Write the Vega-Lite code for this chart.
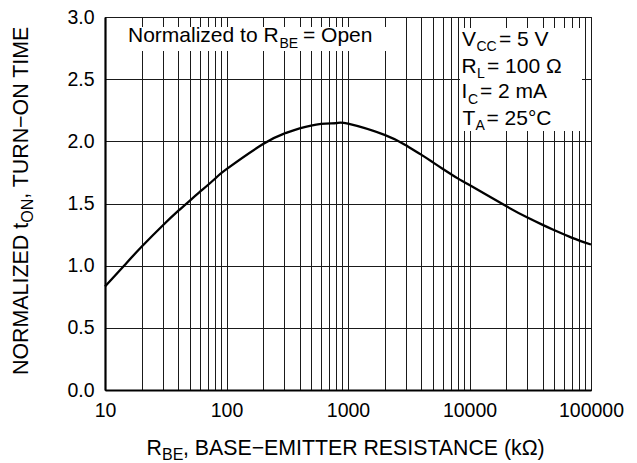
{
  "$schema": "https://vega.github.io/schema/vega-lite/v6.json",
  "width": 486,
  "height": 373,
  "autosize": {"type": "none"},
  "padding": {"left": 105, "top": 17, "right": 46, "bottom": 73},
  "background": "#ffffff",
  "config": {
    "font": "Liberation Sans",
    "view": {"stroke": "#000000", "strokeWidth": 1},
    "axis": {
      "labelFont": "Liberation Sans",
      "labelFontSize": 19.5,
      "labelColor": "#000000",
      "gridColor": "#1a1a1a",
      "gridOpacity": 1,
      "gridWidth": 1,
      "ticks": false,
      "tickSize": 0,
      "domainColor": "#000000",
      "domainWidth": 2.2,
      "title": null
    },
    "text": {"font": "Liberation Sans", "color": "#000000"}
  },
  "datasets": {
    "curve": [
      {"x": 10, "y": 0.832},
      {"x": 14.6, "y": 1.008},
      {"x": 20, "y": 1.152},
      {"x": 30, "y": 1.325},
      {"x": 40, "y": 1.44},
      {"x": 50, "y": 1.524},
      {"x": 60, "y": 1.591},
      {"x": 80, "y": 1.697},
      {"x": 100, "y": 1.776},
      {"x": 200, "y": 1.978},
      {"x": 300, "y": 2.063},
      {"x": 400, "y": 2.104},
      {"x": 600, "y": 2.14},
      {"x": 800, "y": 2.146},
      {"x": 1000, "y": 2.142},
      {"x": 2000, "y": 2.052},
      {"x": 3000, "y": 1.968},
      {"x": 4000, "y": 1.893},
      {"x": 5000, "y": 1.831},
      {"x": 6000, "y": 1.78},
      {"x": 8000, "y": 1.702},
      {"x": 10000, "y": 1.648},
      {"x": 20000, "y": 1.479},
      {"x": 30000, "y": 1.387},
      {"x": 40000, "y": 1.328},
      {"x": 50000, "y": 1.285},
      {"x": 70000, "y": 1.224},
      {"x": 100000, "y": 1.17}
    ],
    "boxes": [
      {"x": 14.33, "x2": 2135, "y": 2.9196, "y2": 2.7266},
      {"x": 8352, "x2": 84316, "y": 2.9115, "y2": 2.0831}
    ],
    "labels": [
      {"t": "Normalized to R", "x": 15.47, "y": 2.7966, "k": "a"},
      {"t": "= Open", "x": 426.2, "y": 2.7966, "k": "a"},
      {"t": "V", "x": 8677, "y": 2.7668, "k": "a"},
      {"t": "= 5 V", "x": 17490, "y": 2.7668, "k": "a"},
      {"t": "R", "x": 8595, "y": 2.552, "k": "a"},
      {"t": "= 100 Ω", "x": 13930, "y": 2.552, "k": "a"},
      {"t": "I", "x": 8595, "y": 2.3461, "k": "a"},
      {"t": "= 2 mA", "x": 12200, "y": 2.3461, "k": "a"},
      {"t": "T", "x": 8757, "y": 2.1314, "k": "a"},
      {"t": "= 25°C", "x": 13800, "y": 2.1314, "k": "a"},
      {"t": "BE", "x": 273.1, "y": 2.7966, "k": "as"},
      {"t": "CC", "x": 11418, "y": 2.7668, "k": "as"},
      {"t": "L", "x": 11526, "y": 2.552, "k": "as"},
      {"t": "C", "x": 9720, "y": 2.3461, "k": "as"},
      {"t": "A", "x": 11205, "y": 2.1314, "k": "as"},
      {"t": "R", "x": 22.0, "y": -0.5228, "k": "x"},
      {"t": "BE", "x": 29.45, "y": -0.5228, "k": "xs"},
      {"t": ", BASE−EMITTER RESISTANCE (kΩ)", "x": 43.85, "y": -0.5228, "k": "x"},
      {"t": "NORMALIZED t", "x": 2.337, "y": 0.1206, "k": "y"},
      {"t": "ON", "x": 2.337, "y": 1.3448, "k": "ys"},
      {"t": ", TURN−ON TIME", "x": 2.337, "y": 1.5378, "k": "y"}
    ]
  },
  "encoding": {
    "x": {
      "field": "x",
      "type": "quantitative",
      "scale": {"type": "log", "domain": [10, 100000], "nice": false},
      "axis": {
        "values": [10, 20, 30, 40, 50, 60, 70, 80, 90, 100, 200, 300, 400, 500, 600, 700, 800, 900, 1000, 2000, 3000, 4000, 5000, 6000, 7000, 8000, 9000, 10000, 20000, 30000, 40000, 50000, 60000, 70000, 80000, 90000, 100000],
        "labelExpr": "(datum.value == 10 || datum.value == 100 || datum.value == 1000 || datum.value == 10000 || datum.value == 100000) ? format(datum.value, 'd') : ''",
        "labelPadding": 11.5,
        "labelFlush": false,
        "labelOverlap": false,
        "grid": true
      }
    },
    "y": {
      "field": "y",
      "type": "quantitative",
      "scale": {"domain": [0, 3], "nice": false},
      "axis": {
        "values": [0, 0.5, 1, 1.5, 2, 2.5, 3],
        "format": ".1f",
        "labelPadding": 11,
        "grid": true
      }
    }
  },
  "layer": [
    {
      "data": {"name": "boxes"},
      "mark": {"type": "rect", "fill": "#ffffff", "stroke": null},
      "encoding": {
        "x2": {"field": "x2"},
        "y2": {"field": "y2"}
      }
    },
    {
      "data": {"name": "curve"},
      "mark": {"type": "line", "color": "#000000", "strokeWidth": 2.3, "interpolate": "natural"},
      "encoding": {}
    },
    {
      "data": {"name": "labels"},
      "transform": [{"filter": "datum.k == 'a'"}],
      "mark": {"type": "text", "fontSize": 21, "align": "left", "baseline": "alphabetic"},
      "encoding": {"text": {"field": "t"}}
    },
    {
      "data": {"name": "labels"},
      "transform": [{"filter": "datum.k == 'as'"}],
      "mark": {"type": "text", "fontSize": 14, "align": "left", "baseline": "alphabetic", "dy": 5.5},
      "encoding": {"text": {"field": "t"}}
    },
    {
      "data": {"name": "labels"},
      "transform": [{"filter": "datum.k == 'x'"}],
      "mark": {"type": "text", "fontSize": 21.3, "align": "left", "baseline": "alphabetic"},
      "encoding": {"text": {"field": "t"}}
    },
    {
      "data": {"name": "labels"},
      "transform": [{"filter": "datum.k == 'xs'"}],
      "mark": {"type": "text", "fontSize": 16, "align": "left", "baseline": "alphabetic", "dy": 5},
      "encoding": {"text": {"field": "t"}}
    },
    {
      "data": {"name": "labels"},
      "transform": [{"filter": "datum.k == 'y'"}],
      "mark": {"type": "text", "fontSize": 21.4, "align": "left", "baseline": "alphabetic", "angle": 270},
      "encoding": {"text": {"field": "t"}}
    },
    {
      "data": {"name": "labels"},
      "transform": [{"filter": "datum.k == 'ys'"}],
      "mark": {"type": "text", "fontSize": 16, "align": "left", "baseline": "alphabetic", "angle": 270, "dy": 5},
      "encoding": {"text": {"field": "t"}}
    }
  ]
}
